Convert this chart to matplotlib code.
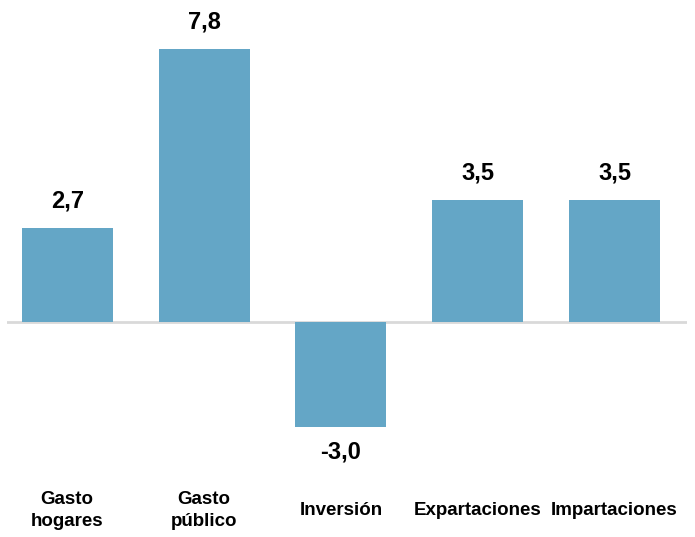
import matplotlib.pyplot as plt

# data
categories = ["Gasto\nhogares", "Gasto\npúblico", "Inversión", "Expartaciones", "Impartaciones"]
values = [2.7, 7.8, -3.0, 3.5, 3.5]
value_labels = ["2,7", "7,8", "-3,0", "3,5", "3,5"]

fig = plt.figure(figsize=(6.95, 5.37), dpi=100)
ax = fig.add_axes([7 / 695, 1 - 441 / 537, 680 / 695, 441 / 537])

x = range(len(values))
ax.bar(x, values, width=0.665, color="#64A6C6", zorder=2)
ax.axhline(0, color="#D9D9D9", lw=2, zorder=1)

for i, (v, lab) in enumerate(zip(values, value_labels)):
    if v >= 0:
        ax.annotate(lab, (i, v), xytext=(0, 11), textcoords="offset points",
                    ha="center", va="bottom", fontsize=17, fontweight="bold",
                    family="Liberation Sans")
    else:
        ax.annotate(lab, (i, v), xytext=(0, -10), textcoords="offset points",
                    ha="center", va="top", fontsize=17, fontweight="bold",
                    family="Liberation Sans")

ax.set_xlim(-0.44, 4.53)
ax.set_ylim(-3.4, 9.2)
ax.set_xticks(list(x))
ax.set_xticklabels(categories, fontsize=13.5, fontweight="bold", family="Liberation Sans",
                   va="center", linespacing=1.45)
ax.tick_params(axis="x", length=0, pad=50)
ax.set_yticks([])
for s in ax.spines.values():
    s.set_visible(False)

fig.savefig("out.png", dpi=100)
